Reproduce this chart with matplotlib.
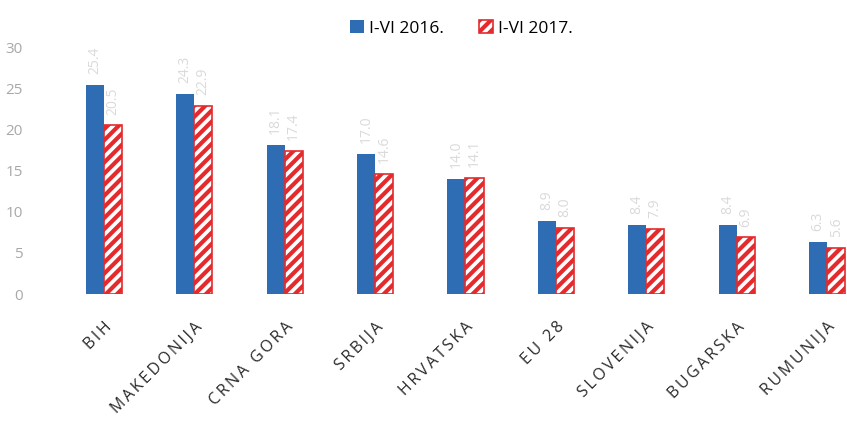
import matplotlib.pyplot as plt
import numpy as np

categories = ["BIH", "MAKEDONIJA", "CRNA GORA", "SRBIJA", "HRVATSKA",
              "EU 28", "SLOVENIJA", "BUGARSKA", "RUMUNIJA"]
values_2016 = [25.4, 24.3, 18.1, 17.0, 14.0, 8.9, 8.4, 8.4, 6.3]
values_2017 = [20.5, 22.9, 17.4, 14.6, 14.1, 8.0, 7.9, 6.9, 5.6]
yticks = [0, 5, 10, 15, 20, 25, 30]

blue = "#2e6db4"
red = "#e42a2c"

plt.rcParams["font.family"] = ["Open Sans", "DejaVu Sans"]
plt.rcParams["hatch.linewidth"] = 3.0
plt.rcParams["hatch.color"] = red


def spaced(s):
    # wide letter spacing like the original axis labels
    return "\u2009".join(s)


fig = plt.figure(figsize=(8.47, 4.28), dpi=100)
ax = fig.add_axes([0.05, 0.313, 0.95, 0.577])

x = np.arange(len(categories))
w = 0.2
ax.bar(x - w / 2, values_2016, w, color=blue, label="I-VI 2016.")
ax.bar(x + w / 2, values_2017, w, facecolor="white", edgecolor=red,
       linewidth=1.2, hatch="///", label="I-VI 2017.")

for xi, v in zip(x - w / 2, values_2016):
    ax.text(xi, v + 1.3, f"{v:.1f}", rotation=90, ha="center", va="bottom",
            fontsize=10, color="#dadada")
for xi, v in zip(x + w / 2, values_2017):
    ax.text(xi, v + 1.3, f"{v:.1f}", rotation=90, ha="center", va="bottom",
            fontsize=10, color="#dadada")

ax.set_xlim(-0.68, 8.22)
ax.set_ylim(0, 30)
ax.set_yticks(yticks)
ax.tick_params(axis="y", length=0, labelsize=11, labelcolor="#a8a8a8", pad=14)
ax.set_xticks(x)
ax.set_xticklabels([spaced(c) for c in categories], rotation=45, ha="right",
                   rotation_mode="anchor", fontsize=11.5, color="#2a2a2a")
ax.tick_params(axis="x", length=0, pad=18)
for s in ax.spines.values():
    s.set_visible(False)

fig.legend(loc="upper center", bbox_to_anchor=(0.545, 0.99), ncol=2, frameon=False,
           fontsize=12.5, handlelength=0.8, handleheight=0.8, handletextpad=0.3,
           columnspacing=2.0)

fig.savefig("out.png", dpi=100)
